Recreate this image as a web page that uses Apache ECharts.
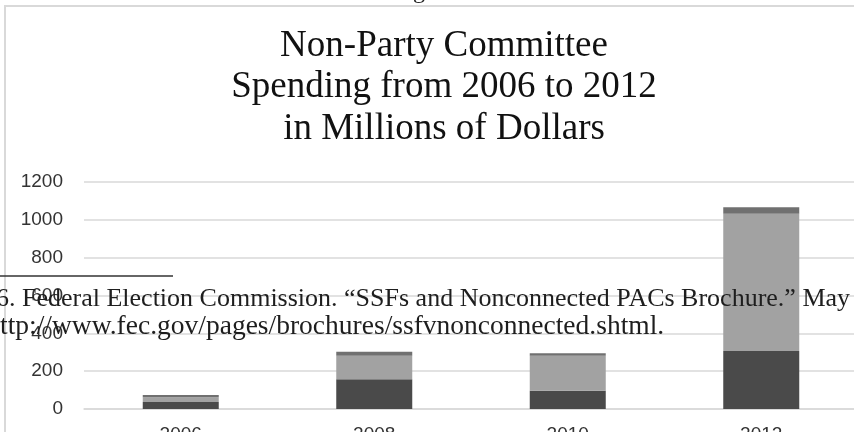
<!DOCTYPE html>
<html>
<head>
<meta charset="utf-8">
<style>
  html, body { margin: 0; padding: 0; background: #ffffff; }
  #chart { width: 854px; height: 432px; }
</style>
<script src="https://cdn.jsdelivr.net/npm/echarts@6/dist/echarts.min.js"></script>
</head>
<body>
<div id="chart"></div>
<script>
// Election cycles on the x axis
const years = ['2006', '2008', '2010', '2012'];
// Stacked spending components, millions of dollars (bottom to top)
const baseSpending = [37, 157, 97, 307];
const middleSpending = [25, 124, 184, 725];
const topSpending = [12, 22, 14, 34];
// Value axis ticks
const yTicks = [0, 200, 400, 600, 800, 1000, 1200];

const titleLines = ['Non-Party Committee', 'Spending from 2006 to 2012', 'in Millions of Dollars'];
const noteLines = [
  '6. Federal Election Commission. \u201CSSFs and Nonconnected PACs Brochure.\u201D May',
  'ttp://www.fec.gov/pages/brochures/ssfvnonconnected.shtml.'
];

const chart = echarts.init(document.getElementById('chart'), null, { renderer: 'canvas' });

const barStyle = (color) => ({ color: color });

const option = {
  backgroundColor: '#ffffff',
  animation: false,
  grid: { left: 84, right: -4, top: 182, bottom: 23, containLabel: false, outerBoundsMode: 'none' },
  xAxis: {
    type: 'category',
    data: years,
    axisLine: { show: true, lineStyle: { color: '#d9d9d9', width: 1.5 } },
    axisTick: { show: false },
    axisLabel: { margin: 16, fontFamily: 'Liberation Sans', fontSize: 19, color: '#333333' }
  },
  yAxis: {
    type: 'value',
    min: yTicks[0],
    max: yTicks[yTicks.length - 1],
    interval: yTicks[1] - yTicks[0],
    axisLine: { show: false },
    axisTick: { show: false },
    splitLine: { lineStyle: { color: '#d9d9d9', width: 1.5 } },
    axisLabel: {
      margin: 21, fontFamily: 'Liberation Sans', fontSize: 19, color: '#333333',
      formatter: (v) => String(v)
    }
  },
  series: [
    { type: 'bar', stack: 'total', data: baseSpending, barWidth: 76, itemStyle: barStyle('#4a4a4a') },
    { type: 'bar', stack: 'total', data: middleSpending, barWidth: 76, itemStyle: barStyle('#a2a2a2') },
    { type: 'bar', stack: 'total', data: topSpending, barWidth: 76, itemStyle: barStyle('#707070') }
  ],
  graphic: [
    // frame around the chart area
    { type: 'polyline', z: 1, silent: true,
      shape: { points: [[5, 440], [5, 6], [860, 6]] },
      style: { stroke: '#d9d9d9', lineWidth: 2, fill: null } },
    // descender of the heading text above the frame
    { type: 'text', z: 1, silent: true, x: 419, y: -8,
      style: { text: 'g', fontFamily: 'Liberation Serif', fontSize: 24, fill: '#222222', align: 'center', verticalAlign: 'middle' } },
    // chart title
    ...titleLines.map((t, i) => ({
      type: 'text', z: 10, silent: true, x: 444, y: 46 + i * 41.5,
      style: { text: t, fontFamily: 'Liberation Serif', fontSize: 37, fill: '#111111', align: 'center', verticalAlign: 'middle' }
    })),
    // footnote rule and text printed over the chart
    { type: 'line', z: 20, silent: true,
      shape: { x1: 0, y1: 276, x2: 173, y2: 276 },
      style: { stroke: '#333333', lineWidth: 1.5 } },
    ...noteLines.map((t, i) => ({
      type: 'text', z: 20, silent: true, x: i === 0 ? -4 : 0, y: 299 + i * 28,
      style: { text: t, fontFamily: 'Liberation Serif', fontSize: i === 0 ? 26 : 27.5, fill: '#1e1e1e', align: 'left', verticalAlign: 'middle' }
    }))
  ]
};

chart.setOption(option);
</script>
</body>
</html>
